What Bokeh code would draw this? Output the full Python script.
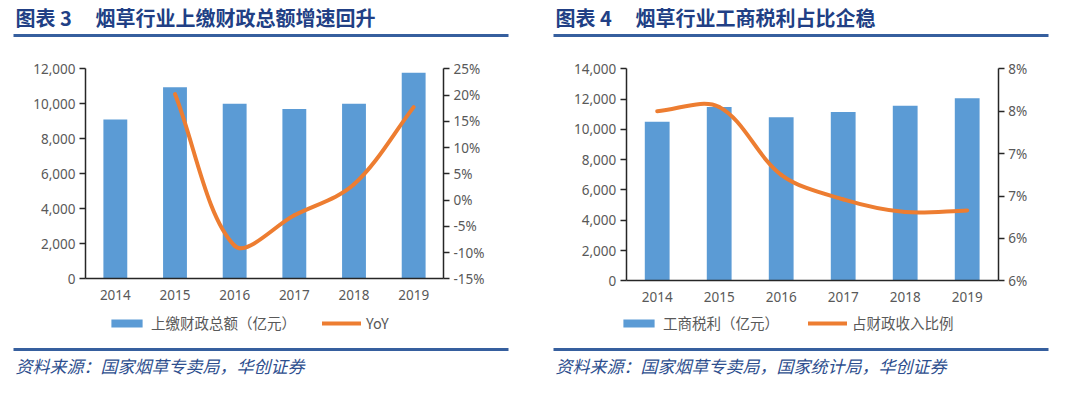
import math
from bokeh.plotting import figure
from bokeh.models import (Range1d, LinearAxis, FixedTicker, NumeralTickFormatter,
                          PrintfTickFormatter, Legend, LegendItem, ColumnDataSource)
from bokeh.layouts import row
from bokeh.core.properties import value
from bokeh.embed import file_html
from bokeh.resources import INLINE

# ---------------- data ----------------
years = ["2014", "2015", "2016", "2017", "2018", "2019"]

fiscal = [9110, 10950, 10000, 9710, 10000, 11770]          # 上缴财政总额（亿元）
fiscal_yoy = [None, 20.2, -8.7, -2.9, 3.0, 17.7]            # YoY (%)

profit = [10500, 11470, 10800, 11140, 11560, 12060]         # 工商税利（亿元）
profit_share = [7.50, 7.55, 6.75, 6.46, 6.31, 6.33]         # 占财政收入比例 (%)

left1_ticks = [0, 2000, 4000, 6000, 8000, 10000, 12000]
right1_ticks = [-15, -10, -5, 0, 5, 10, 15, 20, 25]
left2_ticks = [0, 2000, 4000, 6000, 8000, 10000, 12000, 14000]
right2_ticks = [5.5, 6.0, 6.5, 7.0, 7.5, 8.0]
right2_labels = ["6%", "6%", "7%", "7%", "8%", "8%"]

title1_no, title1 = "图表 3", "烟草行业上缴财政总额增速回升"
title2_no, title2 = "图表 4", "烟草行业工商税利占比企稳"
legend1 = ["上缴财政总额（亿元）", "YoY"]
legend2 = ["工商税利（亿元）", "占财政收入比例"]
source1 = "资料来源：国家烟草专卖局，华创证券"
source2 = "资料来源：国家烟草专卖局，国家统计局，华创证券"

# ---------------- styles ----------------
BAR = "#5B9BD5"
LINE = "#ED7D31"
TICK_TXT = "#595959"
AXIS = "#262626"
TITLE_C = "#213F85"
RULE_C = "#365F9E"
SRC_C = "#2D4E8E"
CJK = "Noto Sans CJK SC"
H = 390


def smooth(xs, ys, sx, sy):
    """Excel-like smoothed bezier segments through the data points."""
    pts = [(x, y) for x, y in zip(xs, ys) if y is not None]
    n = len(pts)

    def d(a, b):
        return math.hypot((b[0] - a[0]) * sx, (b[1] - a[1]) * sy)

    out = {k: [] for k in ("x0", "y0", "x1", "y1", "cx0", "cy0", "cx1", "cy1")}
    for i in range(n - 1):
        p0 = pts[i - 1] if i > 0 else pts[i]
        p1, p2 = pts[i], pts[i + 1]
        p3 = pts[i + 2] if i + 2 < n else p2
        d01, d12, d23 = d(p0, p1), d(p1, p2), d(p2, p3)
        f1 = d12 / (d01 + d12) / 3.0
        f2 = d12 / (d12 + d23) / 3.0
        out["x0"].append(p1[0]); out["y0"].append(p1[1])
        out["x1"].append(p2[0]); out["y1"].append(p2[1])
        out["cx0"].append(p1[0] + (p2[0] - p0[0]) * f1)
        out["cy0"].append(p1[1] + (p2[1] - p0[1]) * f1)
        out["cx1"].append(p2[0] - (p3[0] - p1[0]) * f2)
        out["cy1"].append(p2[1] - (p3[1] - p1[1]) * f2)
    return ColumnDataSource(out)


def style_axis(ax, tick_out=6):
    ax.axis_line_color = AXIS
    ax.axis_line_width = 1.5
    ax.major_tick_line_color = AXIS
    ax.major_tick_line_width = 1.5
    ax.major_tick_out = tick_out
    ax.major_tick_in = 0
    ax.minor_tick_line_color = None
    ax.major_label_text_color = TICK_TXT
    ax.major_label_text_font = "Noto Sans"
    ax.major_label_text_font_size = "13.5px"
    ax.major_label_standoff = 4


def span_range(lo, hi, px_lo, px_hi, total):
    """Range so that lo sits at pixel px_lo and hi at px_hi (pixels measured from range start)."""
    per = (hi - lo) / (px_hi - px_lo)
    return Range1d(lo - px_lo * per, hi + (total - px_hi) * per)


def panel(W, no, title, tx, rule_x0, rule_x1, src_text,
          bars, line, left_ticks, right_ticks, right_fmt, right_overrides, labels,
          fl, fr, ft, fb, leg_x, leg_spacing):
    n = len(years)
    idx = list(range(n))
    x_range = span_range(-0.5, n - 0.5, fl, fr, W)
    y_range = span_range(left_ticks[0], left_ticks[-1], H - fb, H - ft, H)
    r_range = span_range(right_ticks[0], right_ticks[-1], H - fb, H - ft, H)

    p = figure(width=W, height=H, x_range=x_range, y_range=y_range, min_border=0,
               toolbar_location=None, output_backend="svg")
    p.outline_line_color = None
    p.grid.visible = False
    p.extra_y_ranges = {"r": r_range, "py": Range1d(H, 0)}
    p.extra_x_ranges = {"px": Range1d(0, W)}

    # header / footer decoration (pixel coordinates from top-left)
    p.text(x=[tx], y=[16.5], text=[no], text_font=value(CJK), text_font_style="bold",
           text_font_size="20px", text_color=TITLE_C, text_baseline="middle",
           x_range_name="px", y_range_name="py")
    p.text(x=[tx + 80], y=[16.5], text=[title], text_font=value(CJK), text_font_style="bold",
           text_font_size="20px", text_color=TITLE_C, text_baseline="middle",
           x_range_name="px", y_range_name="py")
    p.segment(x0=[rule_x0, rule_x0], y0=[35, 349], x1=[rule_x1, rule_x1], y1=[35, 349],
              line_width=3, line_color=RULE_C, x_range_name="px", y_range_name="py")
    p.text(x=[tx], y=[365], text=[src_text], text_font=value(CJK), text_font_style="italic",
           text_font_size="17px", text_color=SRC_C, text_baseline="middle",
           x_range_name="px", y_range_name="py")

    # data
    b = p.vbar(x=idx, top=bars, width=0.4, fill_color=BAR, line_color=None)
    sx = (fr - fl) / n
    sy = (fb - ft) / (right_ticks[-1] - right_ticks[0])
    src = smooth(idx, line, sx, sy)
    l = p.bezier(x0="x0", y0="y0", x1="x1", y1="y1", cx0="cx0", cy0="cy0", cx1="cx1", cy1="cy1",
                 source=src, line_color=LINE, line_width=4, line_cap="round", y_range_name="r")

    # axes
    xa = p.xaxis[0]
    style_axis(xa, 0)
    xa.fixed_location = left_ticks[0]
    xa.bounds = (-0.5, n - 0.5)
    xa.ticker = FixedTicker(ticks=idx)
    xa.major_label_overrides = {i: y for i, y in zip(idx, years)}
    xa.major_label_standoff = 11

    ya = p.yaxis[0]
    style_axis(ya)
    ya.fixed_location = -0.5
    ya.bounds = (left_ticks[0], left_ticks[-1])
    ya.ticker = FixedTicker(ticks=left_ticks)
    ya.formatter = NumeralTickFormatter(format="0,0")

    ra = LinearAxis(y_range_name="r")
    style_axis(ra)
    ra.fixed_location = n - 0.5
    ra.bounds = (right_ticks[0], right_ticks[-1])
    ra.ticker = FixedTicker(ticks=right_ticks)
    if right_fmt is not None:
        ra.formatter = right_fmt
    if right_overrides is not None:
        ra.major_label_overrides = right_overrides
    p.add_layout(ra, "right")

    leg = Legend(items=[LegendItem(label=labels[0], renderers=[b]),
                        LegendItem(label=labels[1], renderers=[l])],
                 orientation="horizontal", location=(leg_x, H - 333))
    leg.border_line_color = None
    leg.background_fill_alpha = 0
    leg.padding = 0
    leg.margin = 0
    leg.spacing = leg_spacing
    leg.glyph_width = 39
    leg.glyph_height = 10
    leg.label_height = 16
    leg.label_standoff = 5
    leg.label_text_font = CJK
    leg.label_text_font_size = "14.5px"
    leg.label_text_color = TICK_TXT
    p.add_layout(leg, "center")
    return p


p1 = panel(540, title1_no, title1, 15, 13, 508, source1,
           fiscal, fiscal_yoy, left1_ticks, right1_ticks,
           PrintfTickFormatter(format="%d%%"), None, legend1,
           85, 443, 68.3, 278.3, 107, 26)
p2 = panel(532, title2_no, title2, 15, 13, 508, source2,
           profit, profit_share, left2_ticks, right2_ticks,
           None, {t: s for t, s in zip(right2_ticks, right2_labels)}, legend2,
           85.7, 457.7, 68.3, 280.3, 79, 29)

layout = row(p1, p2)

with open("out.html", "w") as fh:
    fh.write(file_html(layout, INLINE))
